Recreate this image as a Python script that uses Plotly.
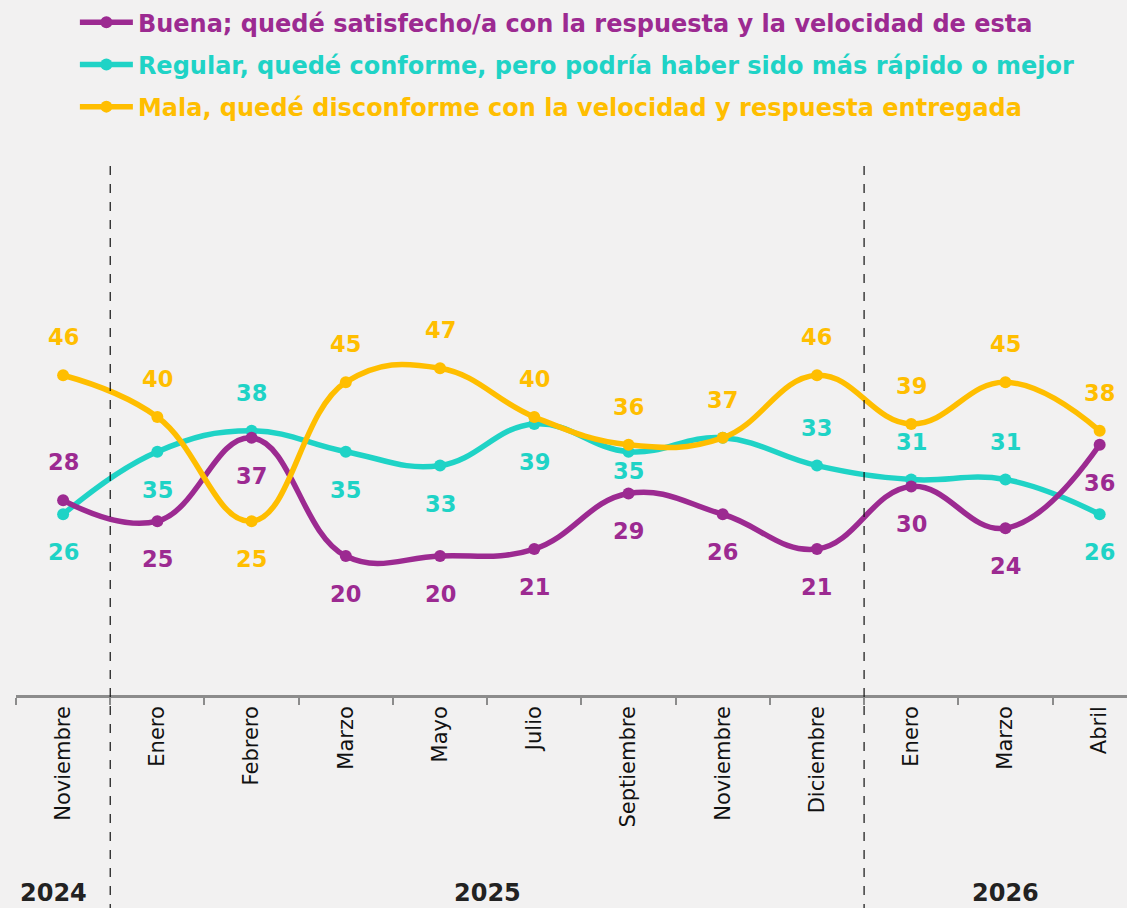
import plotly.graph_objects as go

months = ["Noviembre", "Enero", "Febrero", "Marzo", "Mayo", "Julio",
          "Septiembre", "Noviembre", "Diciembre", "Enero", "Marzo", "Abril"]
years = ["2024", "2025", "2025", "2025", "2025", "2025",
         "2025", "2025", "2025", "2026", "2026", "2026"]

buena = [28, 25, 37, 20, 20, 21, 29, 26, 21, 30, 24, 36]
regular = [26, 35, 38, 35, 33, 39, 35, 37, 33, 31, 31, 26]
mala = [46, 40, 25, 45, 47, 40, 36, 37, 46, 39, 45, 38]

names = ["Buena; quedé satisfecho/a con la respuesta y la velocidad de esta",
         "Regular, quedé conforme, pero podría haber sido más rápido o mejor",
         "Mala, quedé disconforme con la velocidad y respuesta entregada"]

# label placement (+ = above, - = below, 0 = hidden behind another label)
pos_buena = [1, -1, -1, -1, -1, -1, -1, -1, -1, -1, -1, -1]
pos_regular = [-1, -1, 1, -1, -1, -1, -0.5, 0, 1, 1, 1, -1]
pos_mala = [1, 1, -1, 1, 1, 1, 1, 1, 1, 1, 1, 1]

colors = ["#9C2A91", "#1FD3C6", "#FFBE00"]
bg = "#F2F1F1"
bold_font = "DejaVu Sans"

x = [f"{m} {y}" for m, y in zip(months, years)]
vals = {0: buena, 1: regular, 2: mala}
positions = {0: pos_buena, 1: pos_regular, 2: pos_mala}

fig = go.Figure()

# draw order: regular, buena, mala (mala on top); legend order buena, regular, mala
for i in [1, 0, 2]:
    fig.add_trace(go.Scatter(
        x=x, y=vals[i],
        name=f"<span style='color:{colors[i]}'><b>{names[i]}</b></span>",
        mode="lines+markers",
        line=dict(color=colors[i], width=5.5, shape="spline", smoothing=1.2),
        marker=dict(color=colors[i], size=12),
        legendgroup=f"g{i}", legendrank=i + 1,
        hoverinfo="skip",
    ))

for i in [1, 0, 2]:
    for xi, v, p in zip(x, vals[i], positions[i]):
        if p == 0:
            continue
        fig.add_annotation(
            x=xi, y=v, text=f"<b>{v}</b>", showarrow=False,
            yshift=38 * p, font=dict(family=bold_font, size=22.5, color=colors[i]),
        )

# year separators and labels
boundaries = [k - 0.5 for k in range(1, len(years)) if years[k] != years[k - 1]]
for b in boundaries:
    fig.add_shape(type="line", xref="x", yref="paper", x0=b, x1=b, y0=-0.40, y1=0.975,
                  line=dict(color="#111111", width=1.2, dash="dash"))

unique_years = []
for y in years:
    if y not in unique_years:
        unique_years.append(y)
for yv in unique_years:
    idx = [k for k, y in enumerate(years) if y == yv]
    center = (idx[0] + idx[-1]) / 2
    if yv == "2024":
        center -= 0.1
    fig.add_annotation(
        x=center, y=-0.393, xref="x", yref="paper", text=f"<b>{yv}</b>",
        showarrow=False, font=dict(family=bold_font, size=24, color="#222222"),
    )

fig.update_layout(
    width=1127, height=908,
    paper_bgcolor=bg, plot_bgcolor=bg,
    margin=dict(l=16, r=0, t=150, b=213),
    showlegend=True,
    legend=dict(
        x=0.053, y=1.275, xanchor="left", yanchor="top",
        bgcolor="rgba(0,0,0,0)", tracegroupgap=8,
        font=dict(family=bold_font, size=24),
        itemclick=False, itemwidth=53,
    ),
    xaxis=dict(
        type="category", categoryorder="array", categoryarray=x,
        tickmode="array", tickvals=x, ticktext=months, tickangle=-90,
        tickson="boundaries", ticks="outside", ticklen=7, tickwidth=2,
        tickcolor="#8C8C8C", showline=True, linecolor="#8C8C8C", linewidth=2.5,
        showgrid=False, zeroline=False, range=[-0.5, 11.29],
        tickfont=dict(family="DejaVu Sans", size=21, color="#111111"),
    ),
    yaxis=dict(visible=False, range=[0, 78.4], showgrid=False, zeroline=False),
)

fig.write_html(
    "out.html",
    config={"displayModeBar": False},
    post_script="document.body.style.margin='0';document.body.style.background='#F2F1F1';",
)
